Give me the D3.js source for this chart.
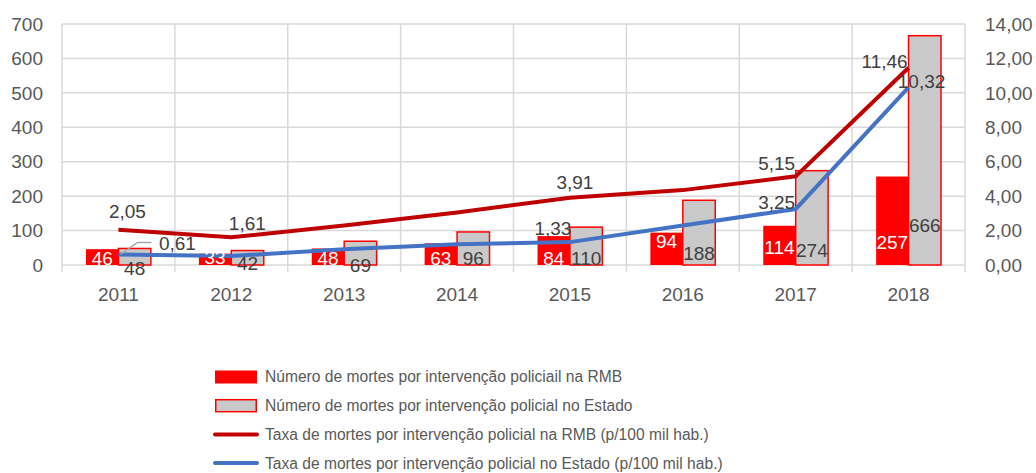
<!DOCTYPE html>
<meta charset="utf-8">
<style>
body { margin: 0; background: #fff; }
text { font-family: "Liberation Sans", Arial, sans-serif; }
.grid line { stroke: #d9d9d9; stroke-width: 1.5px; }
</style>
<svg width="1036" height="473"></svg>
<script src="https://cdn.jsdelivr.net/npm/d3@7/dist/d3.min.js"></script>
<script>

var years = ["2011", "2012", "2013", "2014", "2015", "2016", "2017", "2018"]
var mortesRMB = [46, 33, 48, 63, 84, 94, 114, 257]
var mortesEstado = [48, 42, 69, 96, 110, 188, 274, 666]
var taxaRMB = [2.05, 1.61, 2.3, 3.05, 3.91, 4.35, 5.15, 11.46]
var taxaEstado = [0.61, 0.52, 0.92, 1.2, 1.33, 2.3, 3.25, 10.32]
// which line points carry a visible label
var showRMB = [true, true, false, false, true, false, true, true]
var showEstado = [true, false, false, false, true, false, true, true]
var leftTicks = [0, 100, 200, 300, 400, 500, 600, 700]
var rightTicks = [0, 2, 4, 6, 8, 10, 12, 14]
var legendLabels = [
  "Número de mortes por intervenção policiail na RMB",
  "Número de mortes por intervenção policial no Estado",
  "Taxa de mortes por intervenção policial na RMB (p/100 mil hab.)",
  "Taxa de mortes por intervenção policial no Estado (p/100 mil hab.)"
]

// label placement tweaks (pixels), as dragged in the original
var rmbBarLift = [7, 8, 7, 7, 7, 24, 18, 23]
var estBarLift = [-3, 2, 0, 7, 7, 12, 15, 40]
var rmbLineOff = [[9, -18], [16, -14], null, null, [5, -15], null, [-19, -13], [-24, -6]]
var estLineOff = [[59, -11], null, null, null, [-17, -14], null, [-19, -7], [13, -6]]

var fmt = function(v) { return v.toFixed(2).replace(".", ",") }

var svg = d3.select("svg")
var pLeft = 62, pRight = 965, pTop = 24, pBottom = 265

var x = d3.scaleBand().domain(years).range([pLeft, pRight])
var xs = d3.scaleBand().domain(["rmb", "est"]).range([0, x.bandwidth()])
    .paddingInner(0).paddingOuter(0.74)
var yL = d3.scaleLinear().domain([0, 700]).range([pBottom, pTop])
var yR = d3.scaleLinear().domain([0, 14]).range([pBottom, pTop])

// grid
var grid = svg.append("g").attr("class", "grid")
grid.selectAll(".h").data(leftTicks).enter().append("line")
    .attr("x1", pLeft).attr("x2", pRight)
    .attr("y1", function(d) { return yL(d) }).attr("y2", function(d) { return yL(d) })
var bounds = years.map(function(y) { return x(y) }).concat([pRight])
grid.selectAll(".v").data(bounds).enter().append("line")
    .attr("x1", function(d) { return d }).attr("x2", function(d) { return d })
    .attr("y1", pTop).attr("y2", pBottom + 7)

// axes labels
svg.append("g").selectAll("text").data(leftTicks).enter().append("text")
    .attr("x", pLeft - 19).attr("y", function(d) { return yL(d) })
    .attr("dy", "0.35em").attr("text-anchor", "end")
    .style("font-size", "19px").style("fill", "#595959")
    .text(function(d) { return d })
svg.append("g").selectAll("text").data(rightTicks).enter().append("text")
    .attr("x", pRight + 20).attr("y", function(d) { return yR(d) })
    .attr("dy", "0.35em").attr("text-anchor", "start")
    .style("font-size", "19px").style("fill", "#595959")
    .text(function(d) { return fmt(d) })
svg.append("g").selectAll("text").data(years).enter().append("text")
    .attr("x", function(d) { return x(d) + x.bandwidth() / 2 }).attr("y", pBottom + 29)
    .attr("dy", "0.35em").attr("text-anchor", "middle")
    .style("font-size", "19px").style("fill", "#595959")
    .text(function(d) { return d })

// bars
var bars = svg.append("g")
bars.selectAll(".rmb").data(mortesRMB).enter().append("rect")
    .attr("x", function(d, i) { return x(years[i]) + xs("rmb") })
    .attr("width", xs.bandwidth())
    .attr("y", function(d) { return yL(d) })
    .attr("height", function(d) { return yL(0) - yL(d) })
    .attr("fill", "#ff0000")
bars.selectAll(".est").data(mortesEstado).enter().append("rect")
    .attr("x", function(d, i) { return x(years[i]) + xs("est") })
    .attr("width", xs.bandwidth())
    .attr("y", function(d) { return yL(d) })
    .attr("height", function(d) { return yL(0) - yL(d) })
    .attr("fill", "#c9c9c9").attr("stroke", "#ff0000").attr("stroke-width", 1.5)

// lines
var cx = function(i) { return x(years[i]) + x.bandwidth() / 2 }
var line = d3.line().x(function(d, i) { return cx(i) }).y(function(d) { return yR(d) })
svg.append("path").datum(taxaRMB).attr("d", line)
    .attr("fill", "none").attr("stroke", "#c00000").attr("stroke-width", 4)
svg.append("path").datum(taxaEstado).attr("d", line)
    .attr("fill", "none").attr("stroke", "#4472c4").attr("stroke-width", 4)

// bar labels
svg.append("g").selectAll("text").data(mortesRMB).enter().append("text")
    .attr("x", function(d, i) { return x(years[i]) + xs("rmb") + xs.bandwidth() / 2 })
    .attr("y", function(d, i) { return yL(0) - rmbBarLift[i] })
    .attr("dy", "0.35em").attr("text-anchor", "middle")
    .style("font-size", "19px").style("fill", "#fff")
    .text(function(d) { return d })
svg.append("g").selectAll("text").data(mortesEstado).enter().append("text")
    .attr("x", function(d, i) { return x(years[i]) + xs("est") + xs.bandwidth() / 2 })
    .attr("y", function(d, i) { return yL(0) - estBarLift[i] })
    .attr("dy", "0.35em").attr("text-anchor", "middle")
    .style("font-size", "19px").style("fill", "#404040")
    .text(function(d) { return d })

// line labels
function lineLabels(vals, show, off) {
  svg.append("g").selectAll("text").data(vals).enter()
    .filter(function(d, i) { return show[i] })
    .append("text")
    .attr("x", function(d) { var i = vals.indexOf(d); return cx(i) + off[i][0] })
    .attr("y", function(d) { var i = vals.indexOf(d); return yR(d) + off[i][1] })
    .attr("dy", "0.35em").attr("text-anchor", "middle")
    .style("font-size", "19px").style("fill", "#404040")
    .text(function(d) { return fmt(d) })
}
// leader for the 0,61 label
svg.append("polyline")
    .attr("points", [[cx(0) + 2, yR(taxaEstado[0])], [cx(0) + 19, yR(taxaEstado[0]) - 12], [cx(0) + 33, yR(taxaEstado[0]) - 12]].join(" "))
    .attr("fill", "none").attr("stroke", "#a6a6a6").attr("stroke-width", 1.5)
lineLabels(taxaRMB, showRMB, rmbLineOff)
lineLabels(taxaEstado, showEstado, estLineOff)

// legend
var lg = svg.append("g").attr("transform", "translate(215, 377)")
var rows = lg.selectAll("g").data(legendLabels).enter().append("g")
    .attr("transform", function(d, i) { return "translate(0," + (i * 28.7) + ")" })
rows.each(function(d, i) {
  var g = d3.select(this)
  if (i == 0) g.append("rect").attr("x", 0).attr("y", -6.5).attr("width", 42).attr("height", 13).attr("fill", "#ff0000")
  if (i == 1) g.append("rect").attr("x", 0.75).attr("y", -6).attr("width", 40.5).attr("height", 12)
      .attr("fill", "#c9c9c9").attr("stroke", "#ff0000").attr("stroke-width", 1.5)
  if (i >= 2) g.append("line").attr("x1", 0).attr("x2", 42).attr("y1", 0).attr("y2", 0)
      .attr("stroke", i == 2 ? "#c00000" : "#4472c4").attr("stroke-width", 4).attr("stroke-linecap", "round")
})
rows.append("text").attr("x", 50).attr("dy", "0.35em")
    .style("font-size", "15.6px").style("fill", "#595959")
    .text(function(d) { return d })

</script>
